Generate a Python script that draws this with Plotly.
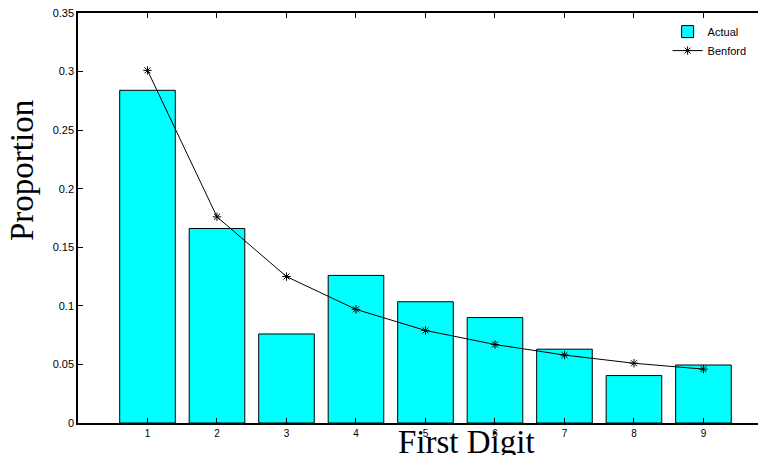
import plotly.graph_objects as go

digits = [1, 2, 3, 4, 5, 6, 7, 8, 9]
actual = [0.284, 0.166, 0.076, 0.126, 0.1035, 0.090, 0.063, 0.0405, 0.0495]
benford = [0.301, 0.176, 0.125, 0.097, 0.079, 0.067, 0.058, 0.051, 0.046]
y_ticks = [0, 0.05, 0.1, 0.15, 0.2, 0.25, 0.3, 0.35]
y_tick_labels = ["0", "0.05", "0.1", "0.15", "0.2", "0.25", "0.3", "0.35"]

fig = go.Figure()
fig.add_trace(go.Bar(
    x=digits, y=actual, name="Actual", width=0.8,
    marker=dict(color="#00FFFF", line=dict(color="#000000", width=1)),
))
fig.add_trace(go.Scatter(
    x=digits, y=benford, name="Benford", mode="lines+markers",
    line=dict(color="#000000", width=1),
    marker=dict(symbol="asterisk-open", size=7, color="#000000",
                line=dict(color="#000000", width=1)),
))

fig.update_layout(
    width=766, height=455,
    margin=dict(l=70, r=8, t=5, b=40),
    paper_bgcolor="white", plot_bgcolor="white",
    showlegend=True,
    legend=dict(x=0.857, y=0.99, xanchor="left", yanchor="top",
                bgcolor="rgba(0,0,0,0)", borderwidth=0,
                font=dict(family="Liberation Sans, Arial", size=11, color="#000000"),
                tracegroupgap=0),
    xaxis=dict(range=[0, 9.9], tickmode="array", tickvals=digits,
               ticktext=[str(d) for d in digits],
               showline=True, linecolor="#000000", linewidth=1.5, mirror="ticks",
               ticks="inside", ticklen=5, tickcolor="#000000",
               showgrid=False, zeroline=False, automargin=False,
               tickfont=dict(family="Liberation Sans, Arial", size=10, color="#000000")),
    yaxis=dict(range=[0, 0.35], tickmode="array", tickvals=y_ticks,
               ticktext=y_tick_labels,
               showline=True, linecolor="#000000", linewidth=1.5, mirror=False,
               ticks="inside", ticklen=5, tickcolor="#000000",
               showgrid=False, zeroline=False, ticklabeloverflow="allow",
               automargin=False,
               tickfont=dict(family="Liberation Sans, Arial", size=11, color="#000000")),
    bargap=0.2,
)

fig.add_annotation(text="Proportion", xref="paper", yref="paper",
                   x=-0.0814, y=0.617, xanchor="center", yanchor="middle",
                   textangle=-90, showarrow=False,
                   font=dict(family="Liberation Serif", size=33, color="#000000"))
fig.add_annotation(text="First Digit", xref="paper", yref="paper",
                   x=0.564, y=-0.046, xanchor="center", yanchor="middle",
                   showarrow=False,
                   font=dict(family="Liberation Serif", size=33, color="#000000"))

fig.write_html("out.html")
